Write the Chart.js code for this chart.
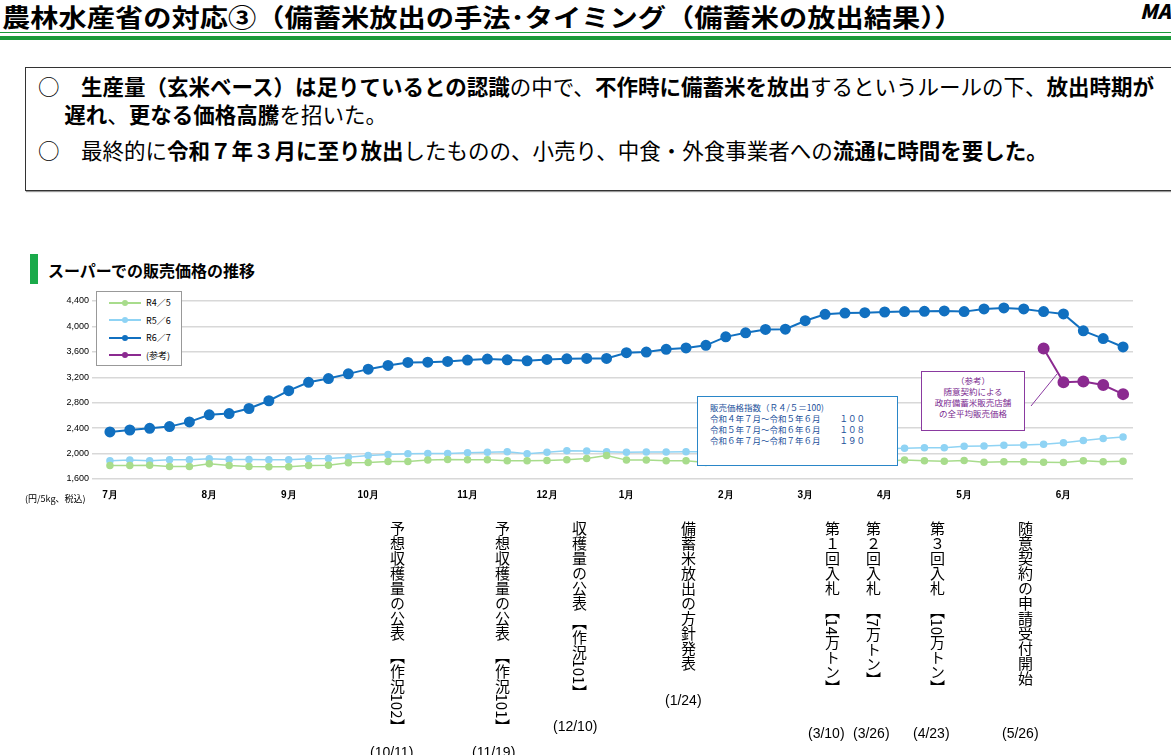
<!DOCTYPE html>
<html><head><meta charset="utf-8">
<script src="https://cdn.jsdelivr.net/npm/chart.js@4"></script>
<style>
body{margin:0;width:1171px;height:755px;overflow:hidden;background:#fff;font-family:"Noto Sans CJK JP","Noto Sans",sans-serif;position:relative}
.a{position:absolute}
.v{position:absolute;writing-mode:vertical-rl;font-size:15px;line-height:18px;color:#000;white-space:nowrap;height:240px}
.d{position:absolute;font-size:14px;font-family:"Liberation Sans Narrow","Liberation Sans",sans-serif}
b{font-weight:700}
</style></head><body>
<div class="a" style="left:2px;top:-2px;font-size:25px;font-weight:700;white-space:nowrap;transform:scaleX(1.13);transform-origin:left top">農林水産省の対応③（備蓄米放出の手法･タイミング（備蓄米の放出結果））</div>
<div class="a" style="left:1140px;top:-4px;font-size:20px;font-weight:900;font-style:italic">MA</div>
<div class="a" style="left:0;top:32px;width:1171px;height:1px;background:#1a9a3a"></div>
<div class="a" style="left:0;top:36px;width:1171px;height:4px;background:#1a9a3a"></div>
<div class="a" style="left:25px;top:67px;width:1160px;height:122px;border:1px solid #333;box-shadow:1px 1px 1px #999"></div>
<div class="a" style="left:38px;top:72px;font-size:21.5px;line-height:28px;white-space:nowrap">○　<b>生産量（玄米ベース）は足りているとの認識</b>の中で、<b>不作時に備蓄米を放出</b>するというルールの下、<b>放出時期が</b><br>　 <b>遅れ</b>、<b>更なる価格高騰</b>を招いた。</div>
<div class="a" style="left:38px;top:134px;font-size:21.5px;white-space:nowrap">○　最終的に<b>令和７年３月に至り放出</b>したものの、小売り、中食・外食事業者への<b>流通に時間を要した。</b></div>
<div class="a" style="left:30px;top:254px;width:8px;height:30px;background:#1aaa4a"></div>
<div class="a" style="left:48px;top:258px;font-size:16px;font-weight:700">スーパーでの販売価格の推移</div>
<div class="a" style="left:0;top:291px;width:1140px;height:218px"><canvas id="c"></canvas></div>
<div class="a" style="left:25px;top:492px;font-size:9px">(円/5kg、税込)</div>
<div id="lg" class="a" style="left:96px;top:291px;width:84px;height:73px;border:1px solid #999;background:#fff;font-size:9px"></div>
<div class="a" style="left:697px;top:396px;width:201px;height:70px;border:1px solid #2a86c8;background:#fff;color:#1a4f9a;font-size:8.5px;line-height:11px;padding:5px 0 0 12px;box-sizing:border-box;white-space:pre">販売価格指数（Ｒ４/５＝100)
令和４年７月～令和５年６月　　 １００
令和５年７月～令和６年６月　　 １０８
令和６年７月～令和７年６月　　 １９０</div>
<div class="a" style="left:921px;top:371px;width:104px;height:60px;border:1px solid #8a3aa0;background:#fff;color:#7a2a90;font-size:8.5px;line-height:11px;text-align:center;padding-top:3px;box-sizing:border-box">（参考）<br>随意契約による<br>政府備蓄米販売店舗<br>の全平均販売価格</div>
<svg class="a" style="left:0;top:0" width="1171" height="755"><line x1="1031" y1="406" x2="1057" y2="374" stroke="#8a3aa0" stroke-width="1"/></svg>
<div class="v" style="left:388px;top:521px">予想収穫量の公表　【作況102】</div>
<div class="v" style="left:493px;top:521px">予想収穫量の公表　【作況101】</div>
<div class="v" style="left:570px;top:521px">収穫量の公表 【作況101】</div>
<div class="v" style="left:679px;top:521px">備蓄米放出の方針発表</div>
<div class="v" style="left:823px;top:521px">第１回入札　【14万トン】</div>
<div class="v" style="left:864px;top:521px">第２回入札　【7万トン】</div>
<div class="v" style="left:928px;top:521px">第３回入札　【10万トン】</div>
<div class="v" style="left:1016px;top:521px">随意契約の申請受付開始</div>
<div class="d" style="left:370px;top:744px">(10/11)</div>
<div class="d" style="left:472px;top:744px">(11/19)</div>
<div class="d" style="left:553px;top:718px">(12/10)</div>
<div class="d" style="left:665px;top:692px">(1/24)</div>
<div class="d" style="left:808px;top:725px">(3/10)</div>
<div class="d" style="left:853px;top:725px">(3/26)</div>
<div class="d" style="left:913px;top:725px">(4/23)</div>
<div class="d" style="left:1002px;top:725px">(5/26)</div>
<script>
const monthLabels = {0:"7月",5:"8月",9:"9月",13:"10月",18:"11月",22:"12月",26:"1月",31:"2月",35:"3月",39:"4月",43:"5月",48:"6月"};
const categories = Array.from({length:52},(_, i)=>monthLabels[i]||"");
const seriesNames = ["R4／5","R5／6","R6／7","(参考)"];
const r45 = [1812,1812,1817,1796,1796,1838,1812,1796,1791,1791,1812,1817,1854,1860,1876,1876,1897,1907,1902,1902,1886,1886,1892,1902,1923,1971,
 1897,1897,1886,1886,1860,1876,1870,1881,1876,1886,1881,1870,1881,1881,1897,1886,1881,1891,1865,1870,1870,1865,1860,1886,1870,1881];
const r56 = [1886,1897,1886,1902,1902,1918,1907,1907,1902,1902,1918,1923,1944,1971,1987,1997,2003,2003,2013,2019,2029,1997,2019,2045,2040,2029,
 2019,2024,2024,2029,2030,2035,2035,2040,2045,2050,2055,2060,2065,2075,2082,2093,2093,2114,2119,2130,2135,2146,2172,2204,2236,2262];
const r67 = [2340,2371,2398,2424,2498,2609,2630,2709,2831,2989,3121,3180,3254,3328,3386,3433,3438,3449,3470,3486,3475,3460,3480,3491,3496,3496,
 3587,3597,3640,3661,3703,3836,3899,3952,3957,4090,4190,4211,4217,4227,4233,4238,4243,4233,4275,4291,4275,4233,4196,3931,3809,3677];
const ref = Array(47).fill(null).concat([3651,3121,3132,3079,2935]);
const yTicks = [1600,2000,2400,2800,3200,3600,4000,4400];
const colors = ["#a8dc8c","#8fd3f4","#1170c0","#8b2a90"];
const vals = [r45,r56,r67,ref];
const radii=[3,3,4.5,5];
new Chart(document.getElementById('c'),{type:'line',
 data:{labels:categories,datasets:vals.map((d,i)=>({label:seriesNames[i],data:d,borderColor:colors[i],backgroundColor:colors[i],pointRadius:radii[i],borderWidth:i>=2?2:1.5,tension:0}))},
 options:{responsive:true,maintainAspectRatio:false,animation:false,layout:{padding:{top:10}},
  plugins:{legend:{display:false},tooltip:{enabled:false}},
  scales:{x:{offset:true,grid:{display:false},border:{display:false},ticks:{autoSkip:false,maxRotation:0,color:'#000',font:{size:10,weight:'bold'},padding:2},afterFit:s=>{s.height=30}},
   y:{min:1600,max:4400,afterBuildTicks:s=>{s.ticks=yTicks.map(v=>({value:v}))},grid:{color:'#d8d8d8',lineWidth:1.5},border:{display:false},
    ticks:{color:'#000',font:{size:9},callback:v=>v.toLocaleString('en-US')},afterFit:s=>{s.width=100}}}}});
const lg=document.getElementById('lg');
seriesNames.forEach((n,i)=>{lg.innerHTML+=`<div style="position:absolute;left:10px;top:${3+i*17.5}px;width:70px;height:14px"><svg width="36" height="12" style="vertical-align:middle"><line x1="2" y1="6" x2="34" y2="6" stroke="${colors[i]}" stroke-width="2"/><circle cx="18" cy="6" r="3" fill="${colors[i]}"/></svg><span style="vertical-align:middle;margin-left:3px">${n}</span></div>`});
</script>
</body></html>
